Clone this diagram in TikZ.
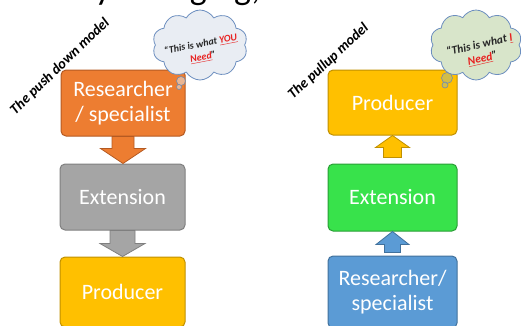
\documentclass[tikz,border=0pt]{standalone}
\usepackage{fontspec}
\setmainfont{Carlito}
\usetikzlibrary{shapes.symbols,calc}
\definecolor{cOrange}{HTML}{ED7D31}
\definecolor{cOrangeD}{HTML}{B55A22}
\definecolor{cGray}{HTML}{A5A5A5}
\definecolor{cGrayD}{HTML}{7F7F7F}
\definecolor{cGold}{HTML}{FFC000}
\definecolor{cGoldD}{HTML}{C09000}
\definecolor{cGreen}{HTML}{38E24B}
\definecolor{cGreenD}{HTML}{2A9E36}
\definecolor{cBlue}{HTML}{5B9BD5}
\definecolor{cBlueD}{HTML}{41719C}
\definecolor{cCloudL}{HTML}{E9EDF3}
\definecolor{cCloudG}{HTML}{D8E5CA}
\definecolor{cCloudD}{HTML}{6C8EBF}
\definecolor{cRed}{HTML}{E8201F}
\definecolor{cText}{HTML}{262626}
\tikzset{
  box/.style={rounded corners=5pt, line width=1pt, text=white, align=center,
    font=\fontsize{22}{25}\selectfont, inner sep=0pt},
  modellabel/.style={font=\fontsize{14.5}{16}\selectfont\bfseries\itshape, inner sep=0pt},
  thought/.style={cloud, cloud puffs=10, cloud puff arc=120, aspect=1.35,
    draw=cCloudD, line width=0.8pt, inner sep=0pt},
  bubble/.style={circle, draw=cCloudD!70!gray, line width=0.6pt, inner sep=0pt},
  quote/.style={align=center, text=cText, inner sep=0pt},
  blockarrow/.style={line width=0.8pt, line join=miter}
}
% down block arrow: style, from, to, half shaft, half head, head length
\newcommand{\blkdown}[6]{%
  \draw[blockarrow,#1] let \p1=#2, \p2=#3 in
    (\x1-#4pt,\y1) -- (\x1+#4pt,\y1) -- (\x1+#4pt,\y2+#6pt) -- (\x1+#5pt,\y2+#6pt)
    -- (\x1,\y2) -- (\x1-#5pt,\y2+#6pt) -- (\x1-#4pt,\y2+#6pt) -- cycle;}
% up block arrow
\newcommand{\blkup}[6]{%
  \draw[blockarrow,#1] let \p1=#2, \p2=#3 in
    (\x1-#4pt,\y1) -- (\x1+#4pt,\y1) -- (\x1+#4pt,\y2-#6pt) -- (\x1+#5pt,\y2-#6pt)
    -- (\x1,\y2) -- (\x1-#5pt,\y2-#6pt) -- (\x1-#4pt,\y2-#6pt) -- cycle;}
\begin{document}
\begin{tikzpicture}[x=1pt,y=-1pt]
\useasboundingbox (0,0) rectangle (521,325);
\clip (0,0) rectangle (521,325);

% cut-off title (only the lower parts show)
\node[anchor=base west, inner sep=0pt, font=\fontsize{36}{42}\selectfont] (title) at (95,-1) {y changing,};

% left column: push down model
\node[box, fill=cOrange, draw=cOrangeD, minimum width=124pt, minimum height=66pt] (lres) at (123,103) {Researcher\\/ specialist};
\node[box, fill=cGray, draw=cGrayD, minimum width=125pt, minimum height=66pt] (lext) at (122.5,197) {Extension};
\node[box, fill=cGold, draw=cGoldD, minimum width=125pt, minimum height=70pt] (lprod) at (122.5,292) {Producer};

\blkdown{fill=cOrange, draw=cOrangeD}{(lres.south)}{(lext.north)}{11}{22.5}{15}
\blkdown{fill=cGray, draw=cGrayD}{(lext.south)}{(lprod.north)}{12.5}{22.5}{13}

\node[modellabel, rotate=44] (lbl1) at (60,66.5) {The push down model};

% left thought cloud
\node[thought, fill=cCloudL, minimum width=95pt, minimum height=70pt] (c1) at (200,45) {};
\node[bubble, fill=cCloudL, fill opacity=0.5, minimum size=9pt] (b1) at (181,81) {};
\node[bubble, fill=cCloudL, fill opacity=0.5, minimum size=5pt] (b2) at (179,87) {};
\node[quote, rotate=11, font=\fontsize{10}{13}\selectfont\bfseries\itshape] (q1) at (202,51)
  {“This is what \textcolor{cRed}{\underline{YOU}}\\\textcolor{cRed}{\underline{Need}}”};

% right column: pull up model
\node[box, fill=cGold, draw=cGoldD, minimum width=129pt, minimum height=65pt] (rprod) at (392.5,102.5) {Producer};
\node[box, fill=cGreen, draw=cGreenD, minimum width=129pt, minimum height=67pt] (rext) at (392.5,197.5) {Extension};
\node[box, fill=cBlue, draw=cBlueD, minimum width=129pt, minimum height=72pt] (rres) at (392.5,292) {Researcher/\\specialist};

\blkup{fill=cGold, draw=cGoldD}{([yshift=6pt]rext.north)}{(rprod.south)}{9}{17}{12}
\blkup{fill=cBlue, draw=cBlueD}{([yshift=3pt]rres.north)}{(rext.south)}{8}{16.5}{13}

\node[modellabel, rotate=43] (lbl2) at (328.5,61.5) {The pullup model};

% right thought cloud
\node[thought, fill=cCloudG, minimum width=92pt, minimum height=70pt] (c2) at (476,45) {};
\node[bubble, fill=cCloudG!60!olive, fill opacity=0.6, minimum size=11pt] (b3) at (447,78) {};
\node[bubble, fill=cCloudG!60!olive, fill opacity=0.6, minimum size=6pt] (b4) at (445,85) {};
\node[quote, rotate=13, font=\fontsize{11.5}{14}\selectfont\bfseries\itshape] (q2) at (481,52)
  {“This is what \textcolor{cRed}{\underline{I}}\\\textcolor{cRed}{\underline{Need}}”};
\end{tikzpicture}
\end{document}
